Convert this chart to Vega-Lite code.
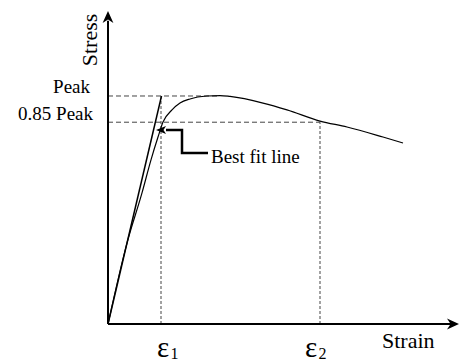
{
  "$schema": "https://vega.github.io/schema/vega-lite/v6.json",
  "autosize": "none",
  "width": 352,
  "height": 324,
  "padding": {"left": 108, "top": 0, "right": 0, "bottom": 40},
  "background": "white",
  "config": {"view": {"stroke": null}, "text": {"font": "Liberation Serif", "color": "black"}},
  "datasets": {
    "curve": [
      {"x": 0, "y": 0}, {"x": 0.19, "y": 0.355}, {"x": 0.34, "y": 0.575}, {"x": 0.43, "y": 0.72},
      {"x": 0.5, "y": 0.82}, {"x": 0.55, "y": 0.886}, {"x": 0.64, "y": 0.939}, {"x": 0.72, "y": 0.969},
      {"x": 0.82, "y": 0.987}, {"x": 0.99, "y": 1.0}, {"x": 1.12, "y": 1.002}, {"x": 1.22, "y": 0.998},
      {"x": 1.55, "y": 0.969}, {"x": 1.79, "y": 0.939}, {"x": 2.12, "y": 0.89}, {"x": 2.39, "y": 0.864},
      {"x": 2.75, "y": 0.82}, {"x": 2.95, "y": 0.794}
    ],
    "bestfit": [{"x": 0, "y": 0}, {"x": 0.535, "y": 1.0}],
    "hguides": [{"x": 0, "y": 1.0, "x2": 1.1, "y2": 1.0}, {"x": 0, "y": 0.885, "x2": 2.12, "y2": 0.885}],
    "vguides": [{"x": 0.53, "y": 0, "x2": 0.53, "y2": 1.0}, {"x": 2.12, "y": 0, "x2": 2.12, "y2": 0.885}],
    "axes": [{"x": 0, "y": 0, "x2": 0, "y2": 1.33}, {"x": 0, "y": 0, "x2": 3.44, "y2": 0}],
    "pointer": [{"x": 0.58, "y": 0.851, "o": 1}, {"x": 0.74, "y": 0.851, "o": 2}, {"x": 0.74, "y": 0.75, "o": 3}, {"x": 1.0, "y": 0.75, "o": 4}],
    "labelsRight": [
      {"x": -0.18, "y": 1.013, "t": "Peak", "s": 19},
      {"x": -0.15, "y": 0.895, "t": "0.85 Peak", "s": 19}
    ],
    "labelsLeft": [
      {"x": 1.03, "y": 0.706, "t": "Best fit line", "s": 19},
      {"x": 2.74, "y": -0.105, "t": "Strain", "s": 22},
      {"x": 0.49, "y": -0.145, "t": "ε", "s": 29},
      {"x": 0.625, "y": -0.154, "t": "1", "s": 16},
      {"x": 1.97, "y": -0.145, "t": "ε", "s": 29},
      {"x": 2.105, "y": -0.154, "t": "2", "s": 16}
    ]
  },
  "encoding": {
    "x": {"field": "x", "type": "quantitative", "scale": {"domain": [0, 3.52], "nice": false, "zero": false}, "axis": null},
    "y": {"field": "y", "type": "quantitative", "scale": {"domain": [0, 1.421], "nice": false, "zero": false}, "axis": null}
  },
  "layer": [
    {"data": {"name": "hguides"}, "mark": {"type": "rule", "color": "#444", "strokeWidth": 1, "strokeDash": [5, 3]},
     "encoding": {"x2": {"field": "x2"}, "y2": {"field": "y2"}}},
    {"data": {"name": "vguides"}, "mark": {"type": "rule", "color": "#444", "strokeWidth": 1, "strokeDash": [3, 2]},
     "encoding": {"x2": {"field": "x2"}, "y2": {"field": "y2"}}},
    {"data": {"name": "curve"}, "mark": {"type": "line", "color": "black", "strokeWidth": 1.2, "interpolate": "monotone"}, "encoding": {}},
    {"data": {"name": "bestfit"}, "mark": {"type": "line", "color": "black", "strokeWidth": 1.5}, "encoding": {}},
    {"data": {"name": "axes"}, "mark": {"type": "rule", "color": "black", "strokeWidth": 2},
     "encoding": {"x2": {"field": "x2"}, "y2": {"field": "y2"}}},
    {"data": {"values": [{"x": 0, "y": 1.3465}]}, "mark": {"type": "point", "filled": true, "color": "black", "opacity": 1, "size": 144, "shape": "M0,-1 L0.9,1 L0,0.4 L-0.9,1 Z"}, "encoding": {}},
    {"data": {"values": [{"x": 3.45, "y": 0}]}, "mark": {"type": "point", "filled": true, "color": "black", "opacity": 1, "size": 144, "shape": "M1,0 L-1,0.9 L-0.4,0 L-1,-0.9 Z"}, "encoding": {}},
    {"data": {"values": [{"x": 0.53, "y": 0.851}]}, "mark": {"type": "point", "filled": true, "color": "black", "opacity": 1, "size": 100, "shape": "M-1,0 L1,-0.8 L0.5,0 L1,0.8 Z"}, "encoding": {}},
    {"data": {"name": "pointer"}, "mark": {"type": "line", "color": "black", "strokeWidth": 2.5, "strokeJoin": "miter"}, "encoding": {"order": {"field": "o", "type": "quantitative"}}},
    {"data": {"name": "labelsRight"}, "mark": {"type": "text", "align": "right", "baseline": "alphabetic"},
     "encoding": {"text": {"field": "t"}, "size": {"field": "s", "type": "quantitative", "scale": null}}},
    {"data": {"name": "labelsLeft"}, "mark": {"type": "text", "align": "left", "baseline": "alphabetic"},
     "encoding": {"text": {"field": "t"}, "size": {"field": "s", "type": "quantitative", "scale": null}}},
    {"data": {"values": [{"x": -0.11, "y": 1.2456, "t": "Stress"}]}, "mark": {"type": "text", "angle": 270, "align": "center", "baseline": "alphabetic", "fontSize": 22},
     "encoding": {"text": {"field": "t"}}}
  ]
}
